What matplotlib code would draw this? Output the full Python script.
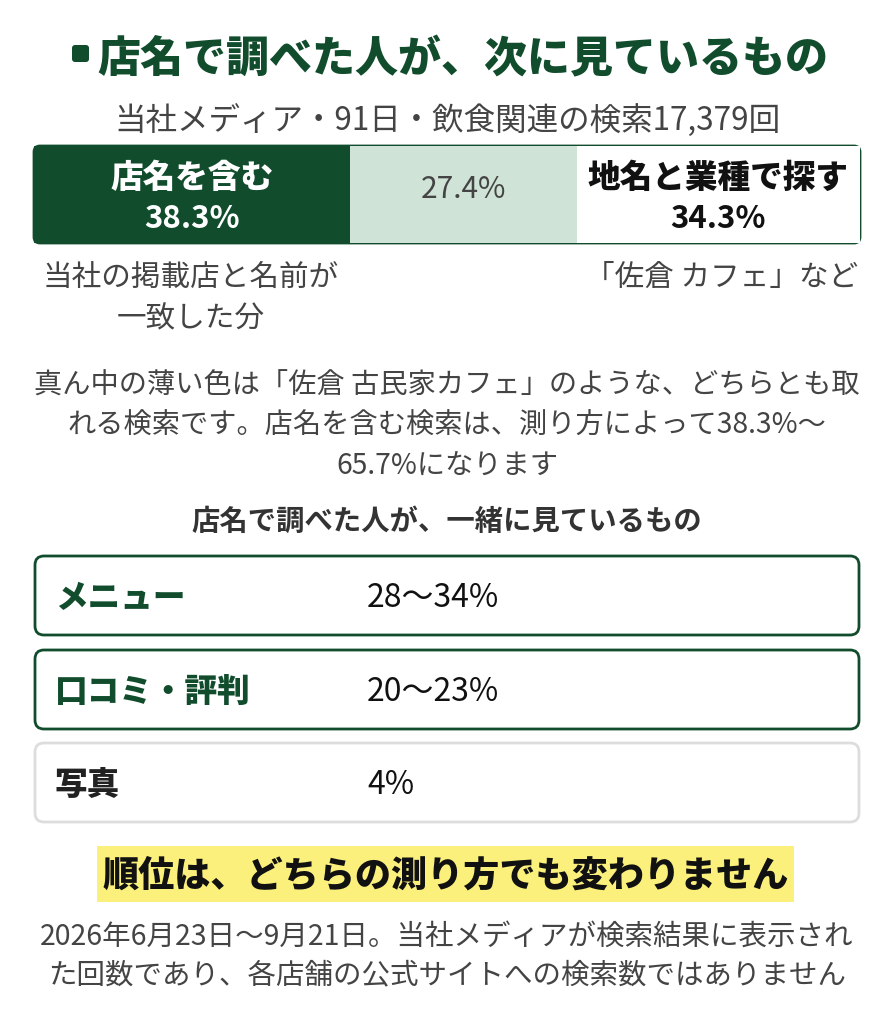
import matplotlib.pyplot as plt
from matplotlib.patches import FancyBboxPatch

plt.rcParams['font.family'] = ['Noto Sans CJK JP', 'DejaVu Sans']

# データ
seg_labels = ['店名を含む', '', '地名と業種で探す']
seg_values = [38.3, 27.4, 34.3]
seg_notes = ['当社の掲載店と名前が\n一致した分', '', '「佐倉 カフェ」など']
items = ['メニュー', '口コミ・評判', '写真']
item_ranges = ['28〜34%', '20〜23%', '4%']

GREEN = '#114d2d'
LIGHT = '#cfe3d6'
GRAY = '#444444'
YELLOW = '#fbf07c'

W, H = 894, 1024
fig = plt.figure(figsize=(W / 100, H / 100), dpi=100)
fig.patch.set_facecolor('white')
ax = fig.add_axes([0, 0, 1, 1])
ax.set_xlim(0, W)
ax.set_ylim(H, 0)
ax.axis('off')

# タイトル
ax.add_patch(FancyBboxPatch((72, 45), 17, 17, boxstyle='round,pad=0,rounding_size=3',
                            facecolor=GREEN, edgecolor='none'))
ax.text(463, 60, '店名で調べた人が、次に見ているもの', ha='center', va='center',
        fontsize=31, fontweight=900, color=GREEN)
ax.text(447, 121, '当社メディア・91日・飲食関連の検索17,379回', ha='center', va='center',
        fontsize=22.7, color=GRAY)

# 帯グラフ
bx0, bx1, by0, by1 = 34, 860, 146, 243
axb = fig.add_axes([bx0 / W, 1 - by1 / H, (bx1 - bx0) / W, (by1 - by0) / H])
lefts = [sum(seg_values[:i]) for i in range(len(seg_values))]
axb.barh(0, seg_values, left=lefts, height=1, color=[GREEN, LIGHT, 'white'], edgecolor='none')
axb.set_xlim(0, sum(seg_values))
axb.set_ylim(-0.5, 0.5)
axb.axis('off')
for lab, v, l, i in zip(seg_labels, seg_values, lefts, range(3)):
    c = l + v / 2
    pct = f'{v:.1f}%'
    if i == 0:
        axb.text(c, 0.17, lab, ha='center', va='center', fontsize=23.5, fontweight=900, color='white')
        axb.text(c, -0.25, pct, ha='center', va='center', fontsize=22.5, fontweight='bold', color='white')
    elif i == 2:
        axb.text(c, 0.17, lab, ha='center', va='center', fontsize=23.5, fontweight=900, color='#111111')
        axb.text(c, -0.25, pct, ha='center', va='center', fontsize=22.5, fontweight='bold', color='#111111')
    else:
        axb.text(c, 0.05, pct, ha='center', va='center', fontsize=21.5, color=GRAY)
ax.add_patch(FancyBboxPatch((bx0, by0), bx1 - bx0, by1 - by0, boxstyle='round,pad=0,rounding_size=6',
                            facecolor='none', edgecolor=GREEN, linewidth=2, zorder=5))

# 帯の下の注記
ax.text(191, 298, seg_notes[0], ha='center', va='center', fontsize=21.3, color=GRAY, linespacing=1.45)
ax.text(858, 277, seg_notes[2], ha='right', va='center', fontsize=21.3, color=GRAY)

ax.text(447, 426, '真ん中の薄い色は「佐倉 古民家カフェ」のような、どちらとも取\n'
        'れる検索です。店名を含む検索は、測り方によって38.3%〜\n65.7%になります',
        ha='center', va='center', fontsize=20.3, color=GRAY, linespacing=1.45)

ax.text(447, 522, '店名で調べた人が、一緒に見ているもの', ha='center', va='center',
        fontsize=20.4, fontweight='bold', color='#333333')

# カード
card_tops = [556, 650, 743]
for i, (name, rng) in enumerate(zip(items, item_ranges)):
    top = card_tops[i]
    edge = GREEN if i < 2 else '#dddddd'
    txtc = GREEN if i < 2 else '#222222'
    ax.add_patch(FancyBboxPatch((35, top), 824, 79, boxstyle='round,pad=0,rounding_size=9',
                                facecolor='white', edgecolor=edge, linewidth=2))
    ax.text(55, top + 42, name, ha='left', va='center', fontsize=23.5, fontweight=900, color=txtc)
    ax.text(367, top + 42, rng, ha='left', va='center', fontsize=23, color='#111111')

# 結論
ax.add_patch(plt.Rectangle((97, 846), 697, 56, facecolor=YELLOW, edgecolor='none'))
ax.text(446, 875, '順位は、どちらの測り方でも変わりません', ha='center', va='center',
        fontsize=26, fontweight=900, color='#111111')

ax.text(447, 956, '2026年6月23日〜9月21日。当社メディアが検索結果に表示され\n'
        'た回数であり、各店舗の公式サイトへの検索数ではありません',
        ha='center', va='center', fontsize=20.5, color=GRAY, linespacing=1.4)

plt.savefig('out.png', dpi=100, facecolor='white')
